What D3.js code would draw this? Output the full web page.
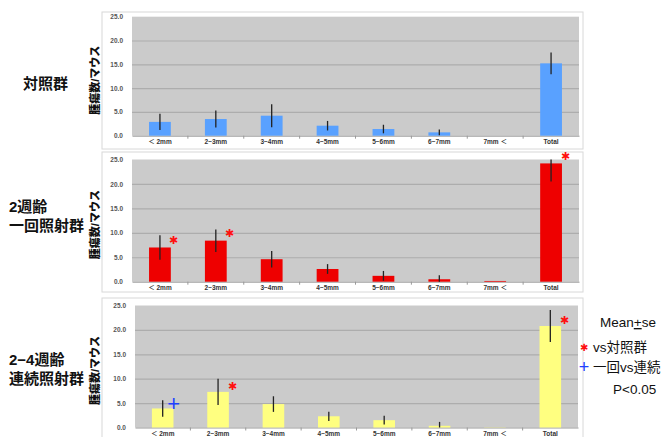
<!DOCTYPE html>
<html>
<head>
<meta charset="utf-8">
<script src="https://cdn.jsdelivr.net/npm/d3@7"></script>
<style>
  body { margin: 0; background: #fff; }
  text { font-family: "Liberation Sans", "Noto Sans CJK JP", sans-serif; }
</style>
</head>
<body>
<div id="chart"></div>
<script>
// data
const categories = ["＜ 2mm", "2−3mm", "3−4mm", "4−5mm", "5−6mm", "6−7mm", "7mm ＜", "Total"];
const yTicks = [0, 5, 10, 15, 20, 25];

const controlMean = [2.9, 3.5, 4.2, 2.1, 1.4, 0.7, 0, 15.2];
const controlSe   = [1.7, 1.8, 2.4, 1.0, 0.9, 0.6, 0, 2.3];

const singleMean = [7.0, 8.4, 4.6, 2.6, 1.2, 0.5, 0.15, 24.2];
const singleSe   = [2.5, 2.3, 1.7, 1.0, 1.0, 0.8, 0, 3.7];

const repeatMean = [3.9, 7.3, 4.8, 2.3, 1.5, 0.35, 0.05, 20.8];
const repeatSe   = [1.7, 2.7, 1.6, 0.95, 0.9, 0.8, 0, 3.3];

// significance markers (category, y in data units)
const singleStars = [{ cat: "＜ 2mm", y: 8.6 }, { cat: "2−3mm", y: 10.0 }, { cat: "Total", y: 25.7 }];
const repeatStars = [{ cat: "2−3mm", y: 8.6 }, { cat: "Total", y: 22.0 }];
const repeatPlus  = [{ cat: "＜ 2mm", y: 5.0 }];

const panels = [
  { label: ["対照群"], labelY: 84, mean: controlMean, se: controlSe, color: "#59a1ff",
    frame: [102, 12, 481, 137], plot: [132, 16.7, 447, 119], stars: [], plus: [] },
  { label: ["2週齢", "一回照射群"], labelY: 207, mean: singleMean, se: singleSe, color: "#ee0000",
    frame: [102, 152, 481, 140], plot: [132, 159.5, 447, 122.2], stars: singleStars, plus: [] },
  { label: ["2−4週齢", "連続照射群"], labelY: 360, mean: repeatMean, se: repeatSe, color: "#ffff80",
    frame: [102, 298, 481, 150], plot: [135, 305.5, 443, 122], stars: repeatStars, plus: repeatPlus }
];

const svg = d3.select("#chart").append("svg")
  .attr("width", 669)
  .attr("height", 437);

panels.forEach(p => {
  const [fx, fy, fw, fh] = p.frame;
  const [px, py, pw, ph] = p.plot;

  svg.append("rect")
    .attr("x", fx).attr("y", fy).attr("width", fw).attr("height", fh)
    .attr("fill", "#fff").attr("stroke", "#d8d8d8").attr("stroke-width", 1);

  const g = svg.append("g").attr("transform", `translate(${px},${py})`);

  const x = d3.scaleBand().domain(categories).range([0, pw]);
  const y = d3.scaleLinear().domain([0, 25]).range([ph, 0]);

  g.append("rect")
    .attr("width", pw).attr("height", ph)
    .attr("fill", "#cbcbcb");

  // gridlines
  g.append("g")
    .call(d3.axisLeft(y).tickValues(yTicks.slice(1, -1)).tickSize(-pw).tickFormat(""))
    .call(a => a.select(".domain").remove())
    .call(a => a.selectAll("line").attr("stroke", "#adadad").attr("stroke-width", 1.2));

  // y tick labels
  g.append("g")
    .attr("transform", "translate(-6,0)")
    .call(d3.axisLeft(y).tickValues(yTicks).tickSize(0).tickFormat(d3.format(".1f")))
    .call(a => a.select(".domain").remove())
    .call(a => a.selectAll("text")
      .attr("fill", "#555").attr("font-size", 6.5).attr("font-weight", "bold"));

  // y axis title
  g.append("text")
    .attr("transform", `translate(${96 - px},${ph / 2 + 4}) rotate(-90)`)
    .attr("text-anchor", "middle")
    .attr("dominant-baseline", "middle")
    .attr("font-family", "Noto Sans CJK JP")
    .attr("font-weight", 900)
    .attr("font-size", 11)
    .attr("fill", "#111")
    .text("腫瘍数/マウス");

  // bottom axis
  g.append("g")
    .attr("transform", `translate(0,${ph})`)
    .call(d3.axisBottom(x).tickSize(0).tickPadding(4))
    .call(a => a.select(".domain").attr("stroke", "#999"))
    .call(a => a.selectAll("text")
      .attr("fill", "#333").attr("font-size", 6.5).attr("font-weight", "bold"));

  // small ticks between categories
  g.selectAll(".sep")
    .data(categories.slice(1))
    .enter().append("line")
    .attr("x1", d => x(d)).attr("x2", d => x(d))
    .attr("y1", ph).attr("y2", ph + 3)
    .attr("stroke", "#999");

  const bw = x.bandwidth() * 0.39;
  const rows = categories.map((c, i) => ({ cat: c, m: p.mean[i], s: p.se[i] }));

  g.selectAll(".bar")
    .data(rows)
    .enter().append("rect")
    .attr("class", "bar")
    .attr("x", d => x(d.cat) + (x.bandwidth() - bw) / 2)
    .attr("y", d => y(d.m))
    .attr("width", bw)
    .attr("height", d => ph - y(d.m))
    .attr("fill", p.color);

  g.selectAll(".err")
    .data(rows.filter(d => d.s > 0))
    .enter().append("line")
    .attr("x1", d => x(d.cat) + x.bandwidth() / 2)
    .attr("x2", d => x(d.cat) + x.bandwidth() / 2)
    .attr("y1", d => y(Math.min(25, d.m + d.s)))
    .attr("y2", d => y(Math.max(0, d.m - d.s)))
    .attr("stroke", "#222")
    .attr("stroke-width", 1.3);

  g.selectAll(".star")
    .data(p.stars)
    .enter().append("text")
    .attr("x", d => x(d.cat) + x.bandwidth() / 2 + 14)
    .attr("y", d => y(d.y))
    .attr("text-anchor", "middle")
    .attr("dominant-baseline", "central")
    .attr("font-family", "DejaVu Sans")
    .attr("fill", "#ff1010")
    .attr("font-size", 11)
    .text("✱");

  g.selectAll(".plus")
    .data(p.plus)
    .enter().append("text")
    .attr("x", d => x(d.cat) + x.bandwidth() / 2 + 11)
    .attr("y", d => y(d.y))
    .attr("text-anchor", "middle")
    .attr("dominant-baseline", "central")
    .attr("font-family", "DejaVu Sans")
    .attr("fill", "#2040ff")
    .attr("font-size", 22)
    .text("+");

  // group label
  const lab = svg.append("text")
    .attr("x", p.label.length > 1 ? 9 : 23)
    .attr("y", p.labelY)
    .attr("font-family", "Noto Sans CJK JP")
    .attr("font-weight", "bold")
    .attr("font-size", 15)
    .attr("fill", "#111");
  p.label.forEach((t, i) => {
    lab.append("tspan")
      .attr("x", p.label.length > 1 ? 9 : 23)
      .attr("dy", i === 0 ? "0.35em" : 19)
      .text(t);
  });
});

// legend
const legend = svg.append("g")
  .attr("font-family", "Noto Sans CJK JP")
  .attr("font-size", 13.5)
  .attr("fill", "#111");

legend.append("text").attr("x", 600).attr("y", 327).html('Mean<tspan text-decoration="underline">+</tspan>se');
legend.append("text").attr("x", 584).attr("y", 347).attr("fill", "#ff1010")
  .attr("font-family", "DejaVu Sans").attr("font-size", 10)
  .attr("text-anchor", "middle").attr("dominant-baseline", "central").text("✱");
legend.append("text").attr("x", 593).attr("y", 352).text("vs対照群");
legend.append("text").attr("x", 584).attr("y", 367).attr("fill", "#2040ff")
  .attr("font-family", "DejaVu Sans").attr("font-size", 18)
  .attr("text-anchor", "middle").attr("dominant-baseline", "central").text("+");
legend.append("text").attr("x", 593).attr("y", 372).text("一回vs連続");
legend.append("text").attr("x", 613).attr("y", 394).text("P<0.05");
</script>
</body>
</html>
